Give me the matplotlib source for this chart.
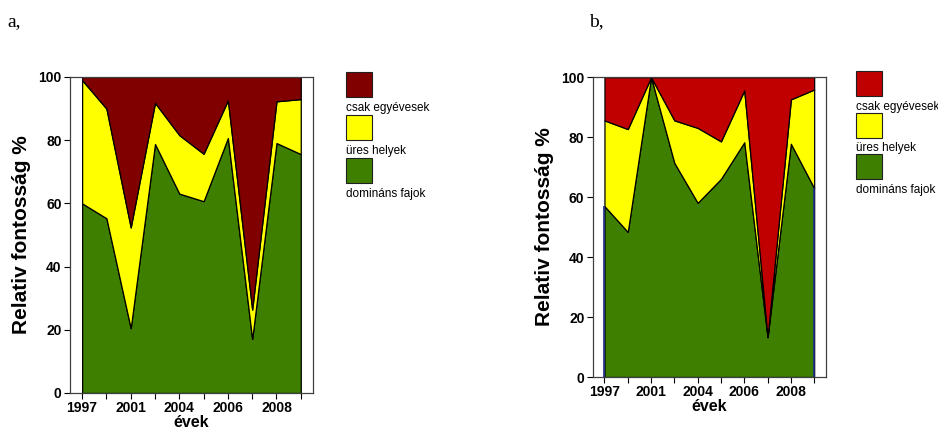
import numpy as np
import matplotlib.pyplot as plt
from matplotlib.patches import Rectangle

plt.rcParams['font.family'] = ['Liberation Sans', 'DejaVu Sans']

evek = ["1997", "", "2001", "", "2004", "", "2006", "", "2008", ""]
reteg_nevek = ["csak egyévesek", "üres helyek", "domináns fajok"]

# a, panel (stacked layers, bottom to top)
a_dominans = [60.0, 55.3, 20.5, 78.8, 63.1, 60.7, 80.7, 17.1, 79.1, 75.6]
a_ures = [39.0, 34.7, 31.9, 13.0, 18.5, 15.0, 11.9, 9.3, 13.2, 17.4]
a_csak = [1.0, 10.0, 47.6, 8.2, 18.4, 24.3, 7.4, 73.6, 7.7, 7.0]

# b, panel
b_dominans = [57.0, 48.4, 100.0, 71.4, 58.1, 66.1, 78.3, 13.3, 77.8, 63.0]
b_ures = [28.6, 34.3, 0.0, 14.2, 25.0, 12.5, 17.3, 0.0, 14.8, 32.9]
b_csak = [14.4, 17.3, 0.0, 14.4, 16.9, 21.4, 4.4, 86.7, 7.4, 4.1]

zold = "#3f7f00"
sarga = "#ffff00"
piros_a = "#800000"
piros_b = "#c00000"

fig = plt.figure(figsize=(9.38, 4.32), dpi=100)


def panel(rect, dom, ures, csak, piros, szel=None):
    ax = fig.add_axes(rect)
    x = np.arange(len(evek))
    ax.stackplot(x, dom, ures, csak, colors=[zold, sarga, piros],
                 edgecolor="black", linewidth=0.9)
    if szel:
        # blue side edges of the green area (b, panel)
        ax.vlines([x[0], x[-1]], 0, [dom[0], dom[-1]], color=szel, linewidth=1.2)
    ax.set_xlim(-0.5, len(evek) - 0.5)
    ax.set_ylim(0, 100)
    ax.set_xticks(x)
    ax.set_xticklabels(evek)
    ax.set_yticks([0, 20, 40, 60, 80, 100])
    ax.tick_params(direction="out", length=4, width=0.8, pad=2, labelsize=10)
    for lab in ax.get_xticklabels() + ax.get_yticklabels():
        lab.set_fontweight("bold")
    for sp in ax.spines.values():
        sp.set_color("#404040")
        sp.set_linewidth(0.9)
    ax.set_ylabel("Relativ fontosság %", fontsize=15, fontweight="bold", labelpad=5)
    ax.set_xlabel("évek", fontsize=11.5, fontweight="bold", labelpad=0)
    return ax


panel([0.0746, 0.0903, 0.259, 0.7315], a_dominans, a_ures, a_csak, piros_a)
panel([0.632, 0.1273, 0.2484, 0.694], b_dominans, b_ures, b_csak, piros_b, szel="#1a2a8a")


def jelmagyarazat(x0, y0, dy, piros):
    W, H = 938.0, 432.0
    szinek = [piros, sarga, zold]
    for i, (nev, c) in enumerate(zip(reteg_nevek, szinek)):
        top = y0 + i * dy
        fig.patches.append(Rectangle((x0 / W, 1 - (top + 25) / H), 26 / W, 25 / H,
                                     facecolor=c, edgecolor="#202020", linewidth=0.8,
                                     transform=fig.transFigure, figure=fig))
        fig.text(x0 / W, 1 - (top + 36) / H, nev, fontsize=8.5, va="center", ha="left")


jelmagyarazat(346, 72, 43, piros_a)
jelmagyarazat(856, 71, 41.5, piros_b)

fig.text(7 / 938, 1 - 22 / 432, "a,", fontsize=14, family="Liberation Serif", va="center")
fig.text(589 / 938, 1 - 22 / 432, "b,", fontsize=14, family="Liberation Serif", va="center")

fig.savefig("out.png", dpi=100)
